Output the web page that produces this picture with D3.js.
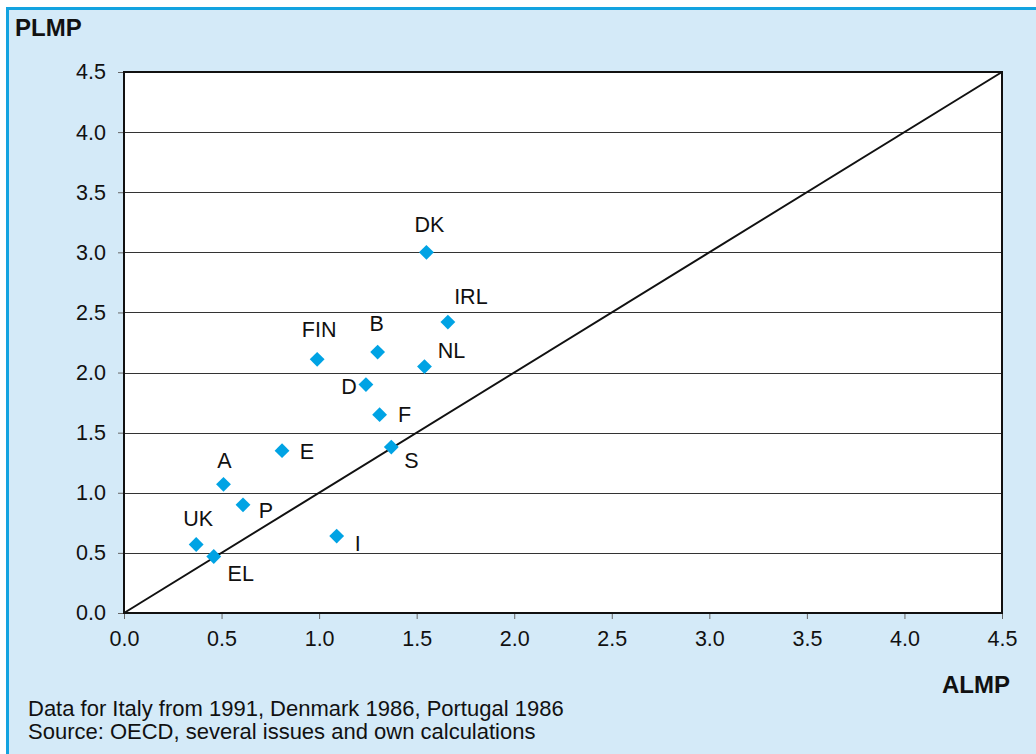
<!DOCTYPE html>
<html>
<head>
<meta charset="utf-8">
<script src="https://cdn.jsdelivr.net/npm/d3@7"></script>
<style>
  body { margin: 0; background: #fff; }
  text { font-family: "Liberation Sans", Arial, sans-serif; fill: #111; }
</style>
</head>
<body>
<div id="grafico"></div>
<script>
// Datos
var paises = ["DK", "IRL", "B", "NL", "FIN", "D", "F", "E", "S", "A", "P", "UK", "EL", "I"];
var almp = [1.55, 1.66, 1.30, 1.54, 0.99, 1.24, 1.31, 0.81, 1.37, 0.51, 0.61, 0.37, 0.46, 1.09];
var plmp = [3.00, 2.42, 2.17, 2.05, 2.11, 1.90, 1.65, 1.35, 1.38, 1.07, 0.90, 0.57, 0.47, 0.64];
var ticks = [0, 0.5, 1, 1.5, 2, 2.5, 3, 3.5, 4, 4.5];
var notas = ["Data for Italy from 1991, Denmark 1986, Portugal 1986",
             "Source: OECD, several issues and own calculations"];

// desplazamiento de cada etiqueta respecto al punto
var offs = {
  DK: [3, -27], IRL: [23, -25], B: [-1, -28], NL: [27, -16], FIN: [2, -29],
  D: [-17, 2], F: [25, 0], E: [25, 1], S: [20, 14], A: [1, -23],
  P: [23, 6], UK: [2, -25], EL: [27, 18], I: [21, 8]
};

var W = 1036, H = 754;
var margin = {top: 72, left: 124, right: 34, bottom: 141};
var ancho = W - margin.left - margin.right;
var alto = H - margin.top - margin.bottom;

var svg = d3.select("#grafico").append("svg")
  .attr("width", W).attr("height", H);

// fondo azul y borde
svg.append("rect").attr("x", 6).attr("y", 8).attr("width", W - 6).attr("height", H - 8)
  .attr("fill", "#d4eaf8");
svg.append("line").attr("x1", 6).attr("x2", W).attr("y1", 8.5).attr("y2", 8.5)
  .attr("stroke", "#13a3e0").attr("stroke-width", 3);
svg.append("line").attr("x1", 7.5).attr("x2", 7.5).attr("y1", 8).attr("y2", H)
  .attr("stroke", "#13a3e0").attr("stroke-width", 3);

var g = svg.append("g").attr("transform", "translate(" + margin.left + "," + margin.top + ")");

var x = d3.scaleLinear().domain([0, 4.5]).range([0, ancho]);
var y = d3.scaleLinear().domain([0, 4.5]).range([alto, 0]);

g.append("rect").attr("width", ancho).attr("height", alto).attr("fill", "#fff");

// lineas de la rejilla
g.selectAll("grid").data(ticks.slice(1, -1)).enter().append("line")
  .attr("x1", 0).attr("x2", ancho)
  .attr("y1", d => Math.round(y(d)) + 0.5).attr("y2", d => Math.round(y(d)) + 0.5)
  .attr("stroke", "#333").attr("stroke-width", 1);

// ejes
var ejeY = g.append("g").call(d3.axisLeft(y).tickValues(ticks).tickFormat(d3.format(".1f")).tickSize(6).tickPadding(12));
var ejeX = g.append("g").attr("transform", "translate(0," + alto + ")")
  .call(d3.axisBottom(x).tickValues(ticks).tickFormat(d3.format(".1f")).tickSize(6).tickPadding(12));
[ejeX, ejeY].forEach(function(e) {
  e.select(".domain").remove();
  e.selectAll(".tick line").attr("stroke", "#666");
  e.selectAll("text").style("font-size", "21.5px").attr("fill", "#111")
    .style("font-family", "'Liberation Sans', Arial, sans-serif");
});

// diagonal 45 grados
g.append("line").attr("x1", x(0)).attr("y1", y(0)).attr("x2", x(4.5)).attr("y2", y(4.5))
  .attr("stroke", "#111").attr("stroke-width", 2);

// marco
g.append("rect").attr("width", ancho).attr("height", alto)
  .attr("fill", "none").attr("stroke", "#111").attr("stroke-width", 2);

var datos = paises.map((p, i) => ({pais: p, x: almp[i], y: plmp[i]}));

g.selectAll("pts").data(datos).enter().append("path")
  .attr("d", d3.symbol().type(d3.symbolSquare).size(110))
  .attr("transform", d => "translate(" + x(d.x) + "," + y(d.y) + ") rotate(45)")
  .attr("fill", "#00a3e4");

g.selectAll("labs").data(datos).enter().append("text")
  .attr("x", d => x(d.x) + offs[d.pais][0])
  .attr("y", d => y(d.y) + offs[d.pais][1])
  .attr("text-anchor", "middle").attr("dominant-baseline", "central")
  .style("font-size", "21.5px")
  .text(d => d.pais);

// titulos
svg.append("text").attr("x", 15).attr("y", 36).style("font-size", "24px").style("font-weight", "bold").text("PLMP");
svg.append("text").attr("x", 1010).attr("y", 693).attr("text-anchor", "end")
  .style("font-size", "24px").style("font-weight", "bold").text("ALMP");

svg.selectAll("notas").data(notas).enter().append("text")
  .attr("x", 28).attr("y", (d, i) => 716 + i * 23)
  .style("font-size", "22px").text(d => d);
</script>
</body>
</html>
